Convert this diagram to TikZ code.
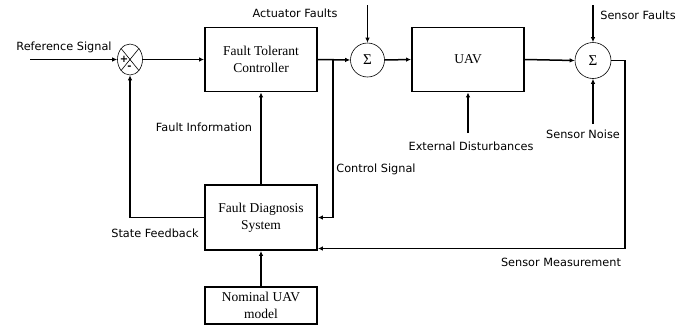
\documentclass[tikz,border=0pt]{standalone}
\usepackage{fontspec}
\setmainfont{Liberation Serif}
\newfontfamily\labfont{DejaVu Sans}
\usetikzlibrary{arrows.meta,shapes.geometric}
\begin{document}
\begin{tikzpicture}[x=1pt,y=-1pt,
  blk/.style={draw,line width=1.8pt,inner sep=0pt,align=center,minimum width=112pt,
    font=\fontsize{13.5}{17}\selectfont},
  lbl/.style={inner sep=0pt,font=\labfont\fontsize{11.3}{14}\selectfont},
  sig/.style={draw,line width=0.6pt,circle,minimum size=34pt,inner sep=0pt,
    font=\fontsize{15}{18}\selectfont},
  conn/.style={line width=1.5pt,-{Latex[length=5pt,width=4.5pt]}},
  pm/.style={inner sep=0pt,font=\labfont\bfseries\fontsize{10}{10}\selectfont}]
\useasboundingbox (0,0) rectangle (695,327);
% blocks
\node[blk,minimum height=64pt] (ftc) at (261,59.5) {Fault Tolerant\\Controller};
\node[blk,minimum height=64pt] (uav) at (468,59.5) {UAV};
\node[blk,minimum height=65pt] (fds) at (261,217.5) {Fault Diagnosis\\System};
\node[blk,minimum height=37pt] (nom) at (261,305.5) {Nominal UAV\\model};
% summing junctions
\node[draw,line width=0.6pt,ellipse,minimum width=25pt,minimum height=31pt,inner sep=0pt] (sum) at (130,59.5) {};
\draw[line width=0.6pt] (sum.north west) -- (sum.south east) (sum.north east) -- (sum.south west);
\node[pm] (plus) at (124,59) {+};
\node[pm] (minus) at (129.5,67.5) {-};
\node[sig] (s1) at (367.5,60) {Σ};
\node[sig,minimum size=36pt] (s2) at (593,60.5) {Σ};
% free ends
\coordinate (refin) at (30,59.5);
\coordinate (aftop) at (367.5,5);
\coordinate (sftop) at (593,5);
\coordinate (snbot) at (593,124);
\coordinate (edbot) at (468,133);
\coordinate (br) at (333,59.5);
\coordinate (outc) at (625,60.5);
\coordinate (smin) at (fds.east |- 0,248.5);
% connectors
\draw[conn] (refin) -- (sum.west);
\draw[conn] (sum.east) -- (ftc.west);
\draw[conn] (ftc.east) -- (s1.west);
\draw[conn] (br) |- (fds.east);
\draw[conn] (s1.east) -- (uav.west);
\draw[conn] (uav.east) -- (s2.west);
\draw[conn] (aftop) -- (s1.north);
\draw[conn] (sftop) -- (s2.north);
\draw[conn] (snbot) -- (s2.south);
\draw[conn] (edbot) -- (uav.south);
\draw[conn] (s2.east) -- (outc) |- (smin);
\draw[conn] (fds.west) -| (sum.south);
\draw[conn] (fds.north) -- (ftc.south);
\draw[conn] (nom.north) -- (fds.south);
% labels
\node[lbl] (lref) at (64,47) {Reference Signal};
\node[lbl] (laf) at (295,13) {Actuator Faults};
\node[lbl] (lsf) at (638,15) {Sensor Faults};
\node[lbl] (lfi) at (204,127) {Fault Information};
\node[lbl] (lcs) at (376,169) {Control Signal};
\node[lbl] (led) at (471,146) {External Disturbances};
\node[lbl] (lsn) at (583,134) {Sensor Noise};
\node[lbl] (lsfb) at (155,233) {State Feedback};
\node[lbl] (lsm) at (561,262) {Sensor Measurement};
\end{tikzpicture}
\end{document}
